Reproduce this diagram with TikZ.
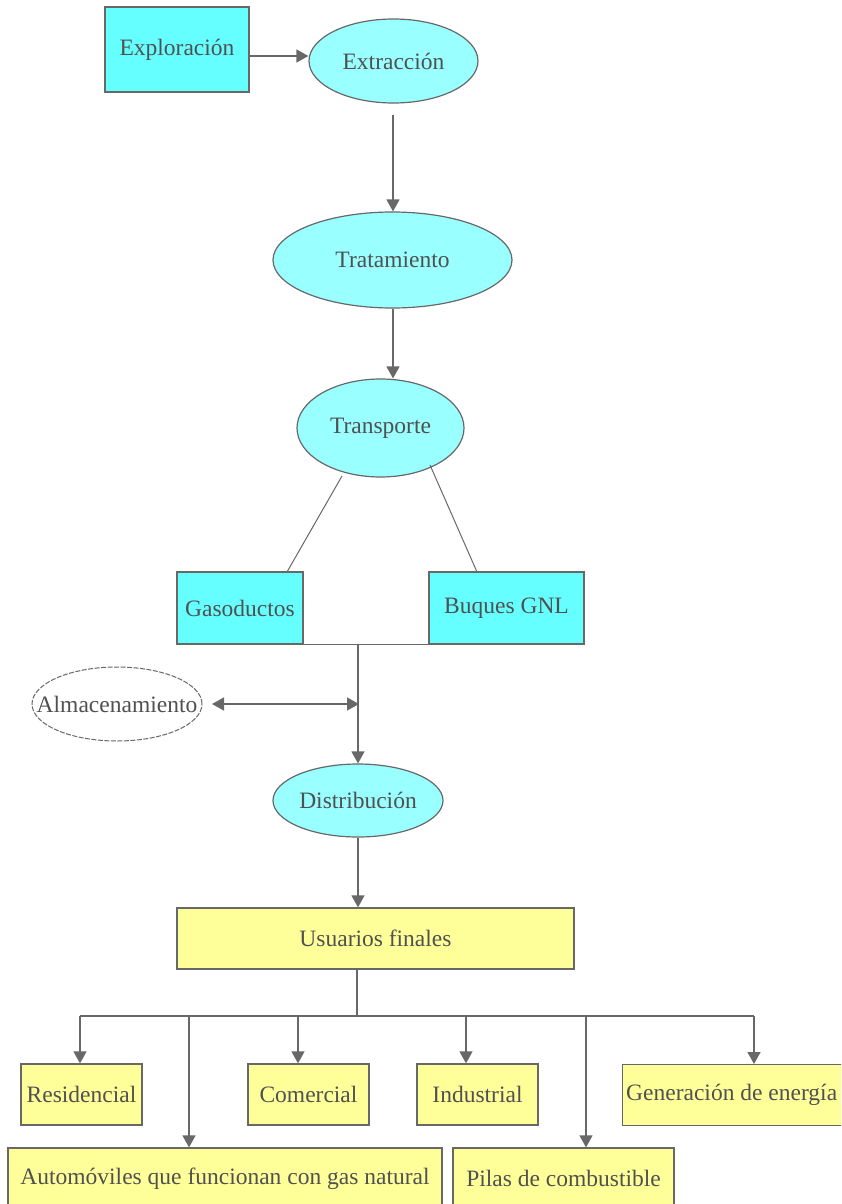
\documentclass[tikz,border=0pt]{standalone}
\usepackage{fontspec}
\setmainfont{Liberation Serif}
\newfontfamily\lserif{Liberation Serif}
\usetikzlibrary{shapes.geometric,arrows.meta}
\definecolor{lgray}{HTML}{686868}
\definecolor{tgray}{HTML}{505050}
\definecolor{cyanbox}{HTML}{66FFFF}
\definecolor{cyanell}{HTML}{99FFFF}
\definecolor{yelbox}{HTML}{FFFF99}
\newcommand\zw[1]{\makebox[0pt]{#1}}
\tikzset{
  lbl/.style={font=\lserif\fontsize{23.5}{28}\selectfont, text=tgray},
  cbox/.style={lbl, rectangle, draw=lgray, line width=1.3pt, fill=cyanbox, inner sep=0pt},
  ybox/.style={lbl, rectangle, draw=lgray, line width=1.3pt, fill=yelbox, inner sep=0pt},
  cell/.style={lbl, ellipse, draw=lgray, line width=1.2pt, fill=cyanell, inner sep=0pt},
  wellp/.style={lbl, ellipse, draw=lgray, line width=1pt, dash pattern=on 5pt off 1.5pt, fill=white, inner sep=0pt},
  conn/.style={draw=lgray, line width=1.4pt},
  thin conn/.style={draw=lgray, line width=1pt},
  arr/.style={conn, -{Triangle[length=12pt,width=13pt]}},
  darr/.style={conn, {Triangle[length=12pt,width=13pt]}-{Triangle[length=12pt,width=13pt]}},
}
\begin{document}
\begin{tikzpicture}[x=1pt,y=-1pt]
\clip (0,0) rectangle (841,1204);
\fill[white] (0,0) rectangle (841,1204);

% nodes
\node[cbox, minimum width=144pt, minimum height=85pt] (explo) at (177,49.5) {\raisebox{-2pt}{Exploración}};
\node[cell, minimum width=169pt, minimum height=84pt] (extr) at (393.5,61) {\zw{Extracción}};
\node[cell, minimum width=239pt, minimum height=96pt] (trat) at (392.5,260) {\zw{Tratamiento}};
\node[cell, minimum width=167pt, minimum height=98pt] (transp) at (380.5,428) {\zw{Transporte}};
\node[cbox, minimum width=126pt, minimum height=72pt] (gas) at (240,608) {Gasoductos};
\node[cbox, minimum width=155pt, minimum height=72pt] (buq) at (506.5,608) {Buques GNL};
\node[wellp, minimum width=170pt, minimum height=74pt] (almac) at (117,704) {\zw{Almacenamiento}};
\node[cell, minimum width=170pt, minimum height=73pt] (distr) at (358,800.5) {\zw{Distribución}};
\node[ybox, minimum width=397pt, minimum height=61pt] (usu) at (375.5,938.5) {Usuarios finales};
\node[ybox, minimum width=121pt, minimum height=61pt] (res) at (81.5,1094.5) {Residencial};
\node[ybox, minimum width=121pt, minimum height=61pt] (com) at (308.5,1094.5) {Comercial};
\node[ybox, minimum width=121pt, minimum height=61pt] (ind) at (477.5,1094.5) {Industrial};
\node[ybox, minimum width=240pt, minimum height=61pt, anchor=north west] (gen) at (622,1064) {};
\node[lbl, anchor=west, inner sep=0pt] (gentxt) at (626,1094.5) {Generación de energía};
\node[ybox, minimum width=434pt, minimum height=61pt] (auto) at (225,1178.5) {Automóviles que funcionan con gas natural};
\node[ybox, minimum width=221pt, minimum height=61pt] (pilas) at (563.5,1178.5) {Pilas de combustible};

% coordinates
\coordinate (c1) at (393,115);
\coordinate (t1) at (342,476);
\coordinate (t2) at (430,465);
\coordinate (g1) at (287,572);
\coordinate (b1) at (477,572);
\coordinate (j) at (358,644);
\coordinate (al) at (212,704);
\coordinate (ar) at (359,704);
\coordinate (u1) at (357,1016);
\coordinate (bRes) at (80,1016);
\coordinate (bAuto) at (189,1016);
\coordinate (bCom) at (298,1016);
\coordinate (bInd) at (466,1016);
\coordinate (bPil) at (586,1016);
\coordinate (bGen) at (754,1016);

% connectors
\draw[arr] ([yshift=-6.5pt]explo.east) -- ([yshift=-6.5pt]explo.east -| extr.west);
\draw[arr] (c1) -- (c1 |- trat.north);
\draw[arr] (c1 |- trat.south) -- (c1 |- transp.north);
\draw[thin conn] (t1) -- (g1);
\draw[thin conn] (t2) -- (b1);
\draw[conn] (gas.south east) -- (buq.south west);
\draw[arr] (j) -- (j |- distr.north);
\draw[darr] (al) -- (ar);
\draw[arr] (distr.south -| j) -- (usu.north -| distr.south);
\draw[conn] (usu.south -| u1) -- (u1);
\draw[conn] (bRes) -- (bGen);
\draw[arr] (bRes) -- (bRes |- res.north);
\draw[arr] (bAuto) -- (bAuto |- auto.north);
\draw[arr] (bCom) -- (bCom |- com.north);
\draw[arr] (bInd) -- (bInd |- ind.north);
\draw[arr] (bPil) -- (bPil |- pilas.north);
\draw[arr] (bGen) -- (bGen |- gen.north);
\end{tikzpicture}
\end{document}
